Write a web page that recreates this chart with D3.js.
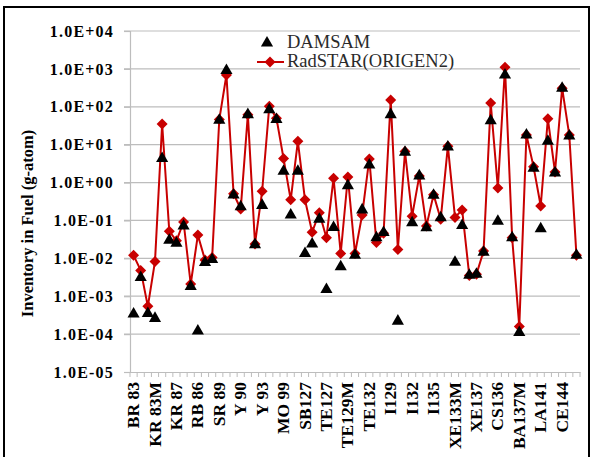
<!DOCTYPE html>
<html><head><meta charset="utf-8">
<script src="https://cdn.jsdelivr.net/npm/d3@7"></script>
<style>html,body{margin:0;padding:0;background:#fff;}svg{display:block;}</style>
</head><body>
<svg id="chart" width="594" height="457"></svg>
<script>
// ---- data ----
const tickLabels = ["BR 83","KR 83M","KR 87","RB 86","SR 89","Y 90","Y 93","MO 99","SB127","TE127",
  "TE129M","TE132","I129","I132","I135","XE133M","XE137","CS136","BA137M","LA141","CE144"];
const labelEvery = 3;
const categoryCount = 63;
const damsam = [3.4e-4,3.1e-3,3.5e-4,2.6e-4,4.3,0.030,0.025,0.071,1.8e-3,1.2e-4,7.8e-3,9.3e-3,44,910,0.47,0.23,62,0.023,0.25,83,46,2.0,0.14,2.0,0.0134,0.024,0.107,0.0015,0.065,0.006,0.83,0.012,0.19,2.9,0.035,0.048,62,2.2e-4,6.3,0.087,1.5,0.064,0.46,0.118,8.7,0.0079,0.074,0.0036,0.0038,0.0145,43,0.095,690,0.035,1.1e-4,18,2.4,0.060,12.3,1.8,310,17,0.012];
const radstar = [0.012,0.0048,5.4e-4,0.0083,35,0.052,0.029,0.091,0.0021,0.041,0.0091,0.0105,46,690,0.51,0.20,62,0.024,0.59,103,50,4.3,0.35,12.3,0.35,0.049,0.16,0.035,1.3,0.0134,1.4,0.0134,0.14,4.2,0.026,0.046,150,0.017,6.6,0.13,1.5,0.071,0.48,0.107,9.1,0.12,0.19,0.0035,0.0038,0.0155,125,0.72,1100,0.035,1.6e-4,18,2.6,0.24,48,1.9,310,18,0.012];
const yTicks = [1e-5,1e-4,1e-3,1e-2,1e-1,1e0,1e1,1e2,1e3,1e4];
const seriesNames = ["DAMSAM","RadSTAR(ORIGEN2)"];

// ---- layout ----
const svg = d3.select("#chart");
const L = 130, R = 580, T = 31, B = 372;
const red = "#c80000", grid = "#bdbdbd";
const serif = "'Liberation Serif','Times New Roman',serif";

// frame
svg.append("rect").attr("x",4).attr("y",7).attr("width",585).attr("height",454)
  .attr("fill","none").attr("stroke","#000").attr("stroke-width",2);

const x = d3.scaleBand().domain(d3.range(categoryCount)).range([L, R]);
const y = d3.scaleLog().domain([1e-5,1e4]).range([B, T]);

const fmt = d => { const e = Math.round(Math.log10(d)); return "1.0E" + (e < 0 ? "-" : "+") + String(Math.abs(e)).padStart(2,"0"); };

// gridlines
svg.append("g").selectAll("line").data(yTicks.slice(1)).join("line")
  .attr("x1", L - 6).attr("x2", R).attr("y1", d => y(d)).attr("y2", d => y(d))
  .attr("stroke", grid).attr("stroke-width", 1.2);

// y axis
const yAxis = svg.append("g").attr("transform", `translate(${L},0)`)
  .call(d3.axisLeft(y).tickValues(yTicks).tickFormat(fmt).tickSize(6).tickPadding(10));
yAxis.select(".domain").attr("stroke", grid).attr("stroke-width",1.2);
yAxis.selectAll(".tick line").attr("stroke", grid).attr("stroke-width",1.2);
yAxis.selectAll(".tick text").attr("font-family", serif).attr("font-weight","bold")
  .attr("font-size", 16).attr("fill","#000").attr("letter-spacing", 1.2);

// x axis
const xAxis = svg.append("g").attr("transform", `translate(0,${B})`)
  .call(d3.axisBottom(x).tickValues([]).tickSize(0));
xAxis.select(".domain").attr("stroke", grid).attr("stroke-width",1.2);
svg.append("g").selectAll("line").data(d3.range(categoryCount + 1)).join("line")
  .attr("x1", i => L + i * x.step()).attr("x2", i => L + i * x.step())
  .attr("y1", B).attr("y2", B + 5).attr("stroke", grid).attr("stroke-width",1);
svg.append("g").selectAll("text").data(tickLabels).join("text")
  .attr("transform", (d,i) => `translate(${x(i*labelEvery) + x.bandwidth()/2 + 5.5},${B + 10}) rotate(-90)`)
  .attr("text-anchor","end").attr("font-family", serif).attr("font-weight","bold")
  .attr("font-size", 17.5).attr("fill","#000").text(d => d);

// y title
svg.append("text").attr("transform", `translate(33,${(T+B)/2 + 22}) rotate(-90)`)
  .attr("text-anchor","middle").attr("font-family", serif).attr("font-weight","bold")
  .attr("font-size", 16.5).text("Inventory in Fuel (g-atom)");

// RadSTAR line + diamonds
const cx = i => x(i) + x.bandwidth()/2;
const line = d3.line().x((d,i) => cx(i)).y(d => y(d));
svg.append("path").datum(radstar).attr("d", line).attr("fill","none")
  .attr("stroke", red).attr("stroke-width", 2);
const diamond = "M0,-5.5L5.5,0L0,5.5L-5.5,0Z";
svg.append("g").selectAll("path").data(radstar).join("path")
  .attr("d", diamond).attr("transform", (d,i) => `translate(${cx(i)},${y(d)})`).attr("fill", red);

// DAMSAM triangles
const tri = d3.symbol().type(d3.symbolTriangle).size(64);
svg.append("g").selectAll("path").data(damsam).join("path")
  .attr("d", tri).attr("transform", (d,i) => `translate(${cx(i)},${y(d)})`).attr("fill","#000");

// legend
const lg = svg.append("g");
lg.append("path").attr("d", tri).attr("transform","translate(267,43)").attr("fill","#000");
lg.append("text").attr("x",287).attr("y",48).attr("font-family", serif).attr("font-size",18.5)
  .attr("fill","#2a2a2a").text(seriesNames[0]);
lg.append("line").attr("x1",257).attr("x2",284).attr("y1",62).attr("y2",62).attr("stroke",red).attr("stroke-width",2);
lg.append("path").attr("d", diamond).attr("transform","translate(270,62)").attr("fill",red);
lg.append("text").attr("x",287).attr("y",67).attr("font-family", serif).attr("font-size",18.5)
  .attr("fill","#2a2a2a").text(seriesNames[1]);
</script>
</body></html>
